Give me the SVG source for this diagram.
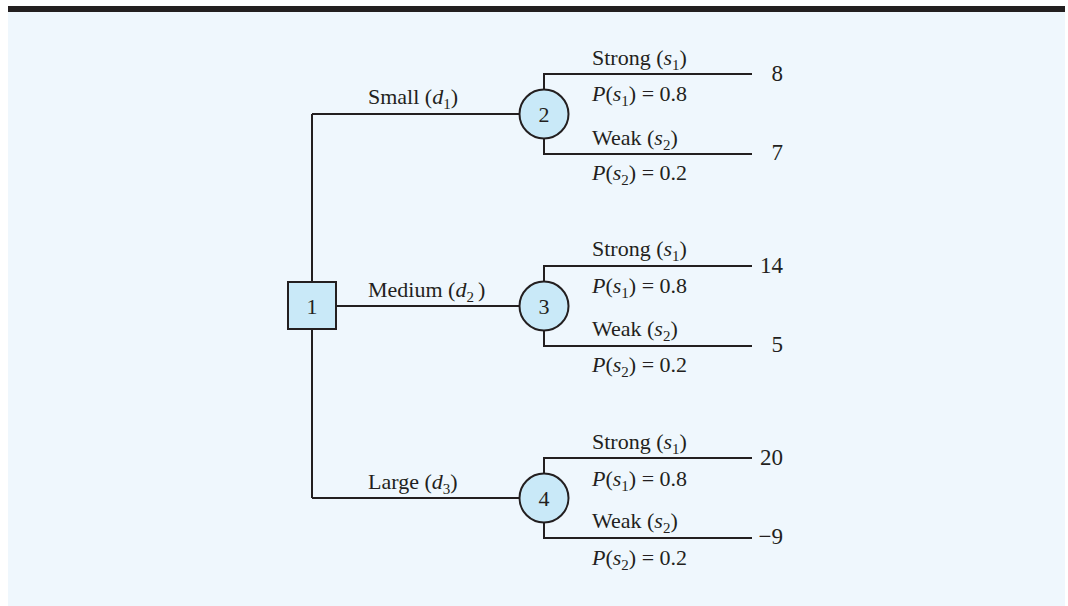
<svg xmlns="http://www.w3.org/2000/svg" width="1068" height="606" viewBox="0 0 1068 606">
<style>
.ln{fill:none;stroke:#231f20;stroke-width:2}
.nd{fill:#c9e9f8;stroke:#231f20;stroke-width:2}
text{font-family:"Liberation Serif","Times New Roman",serif;font-size:22px;fill:#231f20}
.it{font-style:italic}
.sb{font-size:15px}
.num{font-size:22px;text-anchor:middle}
.val{text-anchor:end;font-size:23px}
</style>
<rect x="0" y="0" width="1068" height="606" fill="#ffffff"/>
<rect x="8" y="12" width="1057" height="594" fill="#eff7fd"/>
<rect x="8" y="6" width="1057" height="6" fill="#231f20"/>
<g id="connectors">
<path class="ln" d="M312 114V498M312 114H544M336 306H544M312 498H544"/>
<path class="ln" d="M752 74H544V154H752"/>
<path class="ln" d="M752 266H544V346H752"/>
<path class="ln" d="M752 458H544V538H752"/>
</g>
<g id="labels">
<text x="368" y="104">Small (<tspan class="it">d</tspan><tspan class="sb" dy="5">1</tspan><tspan dy="-5">)</tspan></text>
<text x="368" y="297">Medium (<tspan class="it">d</tspan><tspan class="sb" dy="5">2</tspan><tspan dy="-5" dx="4">)</tspan></text>
<text x="368" y="489">Large (<tspan class="it">d</tspan><tspan class="sb" dy="5">3</tspan><tspan dy="-5">)</tspan></text>
</g>
<g id="node1">
<rect class="nd" x="288" y="282" width="48" height="47"/>
<text class="num" x="312" y="313.5">1</text>
</g>
<g id="node2">
<circle class="nd" cx="544" cy="114" r="24.5"/>
<text class="num" x="544" y="121.5">2</text>
<text x="592" y="65">Strong (<tspan class="it">s</tspan><tspan class="sb" dy="5">1</tspan><tspan dy="-5">)</tspan></text>
<text x="592" y="101"><tspan class="it">P</tspan>(<tspan class="it">s</tspan><tspan class="sb" dy="5">1</tspan><tspan dy="-5">) = 0.8</tspan></text>
<text x="592" y="145">Weak (<tspan class="it">s</tspan><tspan class="sb" dy="5">2</tspan><tspan dy="-5">)</tspan></text>
<text x="592" y="180"><tspan class="it">P</tspan>(<tspan class="it">s</tspan><tspan class="sb" dy="5">2</tspan><tspan dy="-5">) = 0.2</tspan></text>
<text class="val" x="783" y="81">8</text>
<text class="val" x="783" y="160">7</text>
</g>
<g id="node3">
<circle class="nd" cx="544" cy="306" r="24.5"/>
<text class="num" x="544" y="313.5">3</text>
<text x="592" y="256">Strong (<tspan class="it">s</tspan><tspan class="sb" dy="5">1</tspan><tspan dy="-5">)</tspan></text>
<text x="592" y="293"><tspan class="it">P</tspan>(<tspan class="it">s</tspan><tspan class="sb" dy="5">1</tspan><tspan dy="-5">) = 0.8</tspan></text>
<text x="592" y="336">Weak (<tspan class="it">s</tspan><tspan class="sb" dy="5">2</tspan><tspan dy="-5">)</tspan></text>
<text x="592" y="372"><tspan class="it">P</tspan>(<tspan class="it">s</tspan><tspan class="sb" dy="5">2</tspan><tspan dy="-5">) = 0.2</tspan></text>
<text class="val" x="783" y="273">14</text>
<text class="val" x="783" y="352">5</text>
</g>
<g id="node4">
<circle class="nd" cx="544" cy="498" r="24.5"/>
<text class="num" x="544" y="505.5">4</text>
<text x="592" y="449">Strong (<tspan class="it">s</tspan><tspan class="sb" dy="5">1</tspan><tspan dy="-5">)</tspan></text>
<text x="592" y="486"><tspan class="it">P</tspan>(<tspan class="it">s</tspan><tspan class="sb" dy="5">1</tspan><tspan dy="-5">) = 0.8</tspan></text>
<text x="592" y="528">Weak (<tspan class="it">s</tspan><tspan class="sb" dy="5">2</tspan><tspan dy="-5">)</tspan></text>
<text x="592" y="565"><tspan class="it">P</tspan>(<tspan class="it">s</tspan><tspan class="sb" dy="5">2</tspan><tspan dy="-5">) = 0.2</tspan></text>
<text class="val" x="783" y="465">20</text>
<text class="val" x="783" y="544">−9</text>
</g>
</svg>
